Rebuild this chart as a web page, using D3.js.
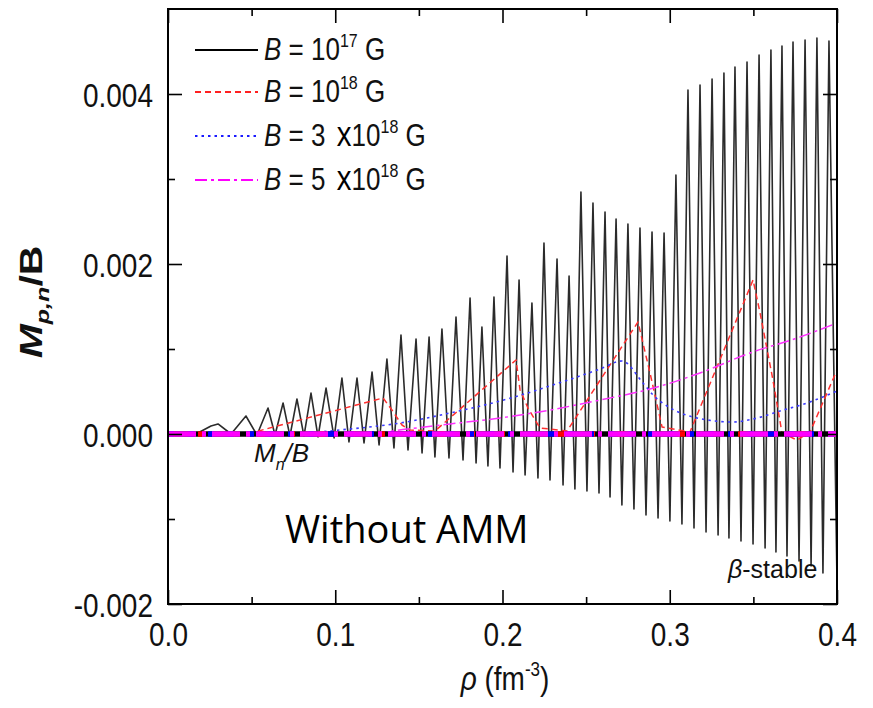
<!DOCTYPE html>
<html>
<head>
<meta charset="utf-8">
<script src="https://cdn.jsdelivr.net/npm/d3@7"></script>
<style>
  body { margin: 0; background: #fff; }
  svg { display: block; }
</style>
</head>
<body>
<svg id="chart" width="873" height="708"></svg>
<script>
// ---------- data: proton magnetization per unit field, M_p/B, vs baryon density ----------
// B = 10^17 G : alternating local maxima / minima of the Landau-level oscillations
const rhoB17 = [0, 0.0167, 0.0257, 0.0299, 0.0377,
  0.0466, 0.0532, 0.0598, 0.0640, 0.0688, 0.0729, 0.0771, 0.0813, 0.0855, 0.0897,
  0.0945, 0.0993, 0.1040, 0.1082, 0.1130, 0.1172, 0.1220, 0.1262, 0.1309, 0.1351,
  0.1393, 0.1435, 0.1483, 0.1519, 0.1561, 0.1596, 0.1638, 0.1680, 0.1722, 0.1764,
  0.1806, 0.1842, 0.1877, 0.1913, 0.1949, 0.1985, 0.2027, 0.2063, 0.2099, 0.2135,
  0.2176, 0.2212, 0.2248, 0.2284, 0.2326, 0.2362, 0.2398, 0.2433, 0.2469, 0.2505,
  0.2541, 0.2577, 0.2613, 0.2643, 0.2679, 0.2714, 0.2750, 0.2786, 0.2822, 0.2858,
  0.2894, 0.2930, 0.2966, 0.3001, 0.3037, 0.3073, 0.3109, 0.3145, 0.3181, 0.3217,
  0.3253, 0.3289, 0.3324, 0.3354, 0.3390, 0.3426, 0.3462, 0.3498, 0.3534, 0.3570,
  0.3605, 0.3635, 0.3671, 0.3701, 0.3737, 0.3773, 0.3809, 0.3845, 0.3880, 0.3916,
  0.3952, 0.4000];
const magB17 = [0, 0, 0.000094, 0.000118, 0,
  0.000212, -0.000012, 0.000306, -0.000012, 0.000365, -0.000024, 0.000412, -0.000024, 0.000482, -0.000035,
  0.000541, -0.000047, 0.000659, -0.000094, 0.000659, -0.000106, 0.000729, -0.000129, 0.000882, -0.000165,
  0.001165, -0.000188, 0.001118, -0.000224, 0.001141, -0.000271, 0.001235, -0.000282, 0.001376, -0.000306,
  0.001600, -0.000341, 0.001259, -0.000376, 0.001612, -0.000400, 0.002094, -0.000447, 0.001812, -0.000482,
  0.001541, -0.000518, 0.002247, -0.000541, 0.002059, -0.000600, 0.001859, -0.000647, 0.002847, -0.000671,
  0.002718, -0.000694, 0.002612, -0.000741, 0.002529, -0.000835, 0.002471, -0.000882, 0.002424, -0.000953,
  0.002376, -0.000988, 0.002365, -0.001024, 0.003047, -0.001059, 0.004047, -0.001106, 0.004106, -0.001153,
  0.004176, -0.001188, 0.004247, -0.001224, 0.004318, -0.001259, 0.004376, -0.001294, 0.004459, -0.001341,
  0.004518, -0.001388, 0.004565, -0.001435, 0.004612, -0.001494, 0.004635, -0.001553, 0.004659, -0.001635,
  0.004624, -0.001753];

// B = 10^18 G
const rhoB18 = [0, 0.0496, 0.1286, 0.1339, 0.1399, 0.1447, 0.1596, 0.2081, 0.2105, 0.2152, 0.2224, 0.2386,
  0.2810, 0.2882, 0.2954, 0.3121, 0.3498, 0.3540, 0.3617, 0.3671, 0.3761, 0.3839, 0.4000];
const magB18 = [0, 0.000012, 0.000424, 0.000282, 0.000106, 0.000047, 0.000035, 0.000871, 0.000518, 0.000306, 0.000071, 0.000035,
  0.001318, 0.000718, 0.000082, 0.000024, 0.001812, 0.001424, 0.000635, 0.000012, -0.000071, 0.000024, 0.000753];

// B = 3 x 10^18 G
const rhoB3e18 = [0, 0.0789, 0.1088, 0.1387, 0.1686, 0.1985, 0.2284, 0.2583, 0.2714, 0.2840, 0.2912, 0.2984,
  0.3139, 0.3378, 0.3498, 0.3659, 0.3821, 0.4000];
const magB3e18 = [0, 0.000012, 0.000059, 0.000129, 0.000247, 0.000388, 0.000565, 0.000765, 0.000859, 0.000600, 0.000435, 0.000329,
  0.000200, 0.000141, 0.000176, 0.000271, 0.000365, 0.000506];

// B = 5 x 10^18 G
const rhoB5e18 = [0, 0.1208, 0.1429, 0.1686, 0.1985, 0.2284, 0.2583, 0.2882, 0.3181, 0.3480, 0.3779, 0.4000];
const magB5e18 = [0, 0.000012, 0.000059, 0.000118, 0.000188, 0.000282, 0.000400, 0.000529, 0.000718, 0.000953, 0.001141, 0.001306];

// neutron magnetization M_n/B (no anomalous moment): zero for every field
const rhoNeutron = [0, 0.4];
const magNeutron = [0, 0];

// axes
const xMajorTicks = [0, 0.1, 0.2, 0.3, 0.4];
const xTickLabels = ["0.0", "0.1", "0.2", "0.3", "0.4"];
const xMinorTicks = [0.05, 0.15, 0.25, 0.35];
const yMajorTicks = [-0.002, 0, 0.002, 0.004];
const yTickLabels = ["-0.002", "0.000", "0.002", "0.004"];
const yMinorTicks = [-0.001, 0.001, 0.003];

// legend entries
const legendCoef = ["", "", "3", "5"];
const legendExp = ["17", "18", "18", "18"];

// ---------- drawing ----------
const svg = d3.select("#chart");
const FONT = "'Liberation Sans', Arial, Helvetica, sans-serif";
const INK = "#111";

const x = d3.scaleLinear().domain([0, 0.4]).range([168, 837]);
const y = d3.scaleLinear().domain([-0.002, 0.005]).range([604, 9]);

const line = d3.line().x(d => x(d[0])).y(d => y(d[1]));
const smooth = d3.line().x(d => x(d[0])).y(d => y(d[1])).curve(d3.curveMonotoneX);

const series = [
  { rho: rhoB17, mag: magB17, color: "#000", plotColor: "#2b2b2b", dash: null, width: 1.6, gen: line },
  { rho: rhoB18, mag: magB18, color: "#ff2020", plotColor: "#ff3030", dash: "6,4", width: 1.5, gen: line },
  { rho: rhoB3e18, mag: magB3e18, color: "#1a1aff", plotColor: "#3a3aff", dash: "2.5,4", width: 1.6, gen: smooth },
  { rho: rhoB5e18, mag: magB5e18, color: "#ff00ff", plotColor: "#ff30ff", dash: "12,4,3,4", width: 1.5, gen: smooth }
];

const plot = svg.append("g");
plot.append("clipPath").attr("id", "clip")
  .append("rect").attr("x", 168).attr("y", 9).attr("width", 669).attr("height", 595);
const inner = plot.append("g").attr("clip-path", "url(#clip)");

series.forEach(s => {
  inner.append("path")
    .datum(d3.zip(s.rho, s.mag))
    .attr("d", s.gen)
    .attr("fill", "none")
    .attr("stroke", s.plotColor)
    .attr("stroke-width", s.width)
    .attr("stroke-dasharray", s.dash)
    .attr("stroke-linejoin", "round");
});

// neutron curves (thick, overlapping at zero)
const neutronStyles = [
  { color: "#000", dash: null },
  { color: "#ff0000", dash: "7,23" },
  { color: "#0000ff", dash: "6,14" },
  { color: "#ff00ff", dash: "28,6,4,6" }
];
neutronStyles.forEach(s => {
  inner.append("path")
    .datum(d3.zip(rhoNeutron, magNeutron))
    .attr("d", line)
    .attr("fill", "none")
    .attr("stroke", s.color)
    .attr("stroke-width", 5.5)
    .attr("stroke-dasharray", s.dash);
});

// ---------- axes (ticks point inward on all four sides) ----------
function styleAxis(g) {
  g.select(".domain").remove();
  g.selectAll(".tick line").attr("stroke", "#000").attr("stroke-width", 1.6);
}
const xAxisB = svg.append("g").attr("transform", "translate(0,604)")
  .call(d3.axisBottom(x).tickValues(xMajorTicks).tickFormat((d, i) => xTickLabels[i]).tickSizeInner(-14).tickSizeOuter(0).tickPadding(0))
  .call(styleAxis);
svg.append("g").attr("transform", "translate(0,604)")
  .call(d3.axisBottom(x).tickValues(xMinorTicks).tickFormat("").tickSizeInner(-7).tickSizeOuter(0)).call(styleAxis);
svg.append("g").attr("transform", "translate(0,9)")
  .call(d3.axisTop(x).tickValues(xMajorTicks).tickFormat("").tickSizeInner(-14).tickSizeOuter(0)).call(styleAxis);
svg.append("g").attr("transform", "translate(0,9)")
  .call(d3.axisTop(x).tickValues(xMinorTicks).tickFormat("").tickSizeInner(-7).tickSizeOuter(0)).call(styleAxis);

const yAxisL = svg.append("g").attr("transform", "translate(168,0)")
  .call(d3.axisLeft(y).tickValues(yMajorTicks).tickFormat((d, i) => yTickLabels[i]).tickSizeInner(-14).tickSizeOuter(0).tickPadding(0))
  .call(styleAxis);
svg.append("g").attr("transform", "translate(168,0)")
  .call(d3.axisLeft(y).tickValues(yMinorTicks).tickFormat("").tickSizeInner(-7).tickSizeOuter(0)).call(styleAxis);
svg.append("g").attr("transform", "translate(837,0)")
  .call(d3.axisRight(y).tickValues(yMajorTicks).tickFormat("").tickSizeInner(-14).tickSizeOuter(0)).call(styleAxis);
svg.append("g").attr("transform", "translate(837,0)")
  .call(d3.axisRight(y).tickValues(yMinorTicks).tickFormat("").tickSizeInner(-7).tickSizeOuter(0)).call(styleAxis);

// tick labels: slightly tall letterforms
const TICK_SY = 1.18;
xAxisB.selectAll(".tick text")
  .attr("font-family", FONT).attr("font-size", 28).attr("fill", INK)
  .attr("text-anchor", "middle")
  .attr("y", null).attr("dy", null)
  .attr("transform", `translate(0,42) scale(1,${TICK_SY})`);
yAxisL.selectAll(".tick text")
  .attr("font-family", FONT).attr("font-size", 28).attr("fill", INK)
  .attr("text-anchor", "end")
  .attr("x", null).attr("dy", null)
  .attr("transform", `translate(-15,12) scale(1,${TICK_SY})`);

// frame
svg.append("rect").attr("x", 168).attr("y", 9).attr("width", 669).attr("height", 595)
  .attr("fill", "none").attr("stroke", "#000").attr("stroke-width", 2);

// ---------- axis titles ----------
const yTitle = svg.append("text")
  .attr("transform", "translate(42,302) scale(1,1.32) rotate(-90)")
  .attr("text-anchor", "middle").attr("font-family", FONT).attr("font-size", 31)
  .attr("font-weight", "bold").attr("fill", INK);
yTitle.append("tspan").attr("font-style", "italic").text("M");
yTitle.append("tspan").attr("font-style", "italic").attr("font-size", 19).attr("dy", 7).text("p,n");
yTitle.append("tspan").attr("dy", -7).text("/B");

const xTitle = svg.append("text")
  .attr("transform", "translate(505,690) scale(1,1.2)")
  .attr("text-anchor", "middle").attr("font-family", FONT).attr("font-size", 28).attr("fill", INK);
xTitle.append("tspan").attr("font-style", "italic").text("\u03C1");
xTitle.append("tspan").text(" (fm");
xTitle.append("tspan").attr("font-size", 17).attr("dy", -12).text("-3");
xTitle.append("tspan").attr("dy", 12).text(")");

// ---------- legend ----------
const legendY = [50, 92, 136, 180];
series.forEach((s, i) => {
  svg.append("line")
    .attr("x1", 195).attr("x2", 258).attr("y1", legendY[i]).attr("y2", legendY[i])
    .attr("stroke", s.color).attr("stroke-width", 2)
    .attr("stroke-dasharray", s.dash);
  const t = svg.append("text")
    .attr("transform", `translate(264,${legendY[i] + 10}) scale(1,1.2)`)
    .attr("font-family", FONT).attr("font-size", 26).attr("fill", INK);
  t.append("tspan").attr("font-style", "italic").text("B");
  t.append("tspan").text(" = " + legendCoef[i]);
  if (legendCoef[i]) {
    t.append("tspan").attr("dx", 11).attr("font-family", "'Open Sans', sans-serif")
      .attr("font-size", 29).attr("fill", "#000").text("x");
  }
  t.append("tspan").text("10");
  t.append("tspan").attr("font-size", 16).attr("dy", -11).text(legendExp[i]);
  t.append("tspan").attr("dy", 11).text(" G");
});

// ---------- annotations ----------
const mn = svg.append("text").attr("x", 254).attr("y", 462)
  .attr("font-family", FONT).attr("font-size", 26).attr("fill", INK);
mn.append("tspan").attr("font-style", "italic").text("M");
mn.append("tspan").attr("font-style", "italic").attr("font-size", 16).attr("dy", 8).text("n");
mn.append("tspan").attr("font-style", "italic").attr("dy", -8).text("/B");

const bs = svg.append("text").attr("x", 728).attr("y", 578)
  .attr("font-family", FONT).attr("font-size", 25).attr("fill", INK);
bs.append("tspan").attr("font-style", "italic").text("\u03B2");
bs.append("tspan").text("-stable");

svg.append("text").attr("x", 285).attr("y", 543)
  .attr("font-family", "'Open Sans', 'Noto Sans', sans-serif").attr("font-size", 38).attr("fill", "#000")
  .text("Without AMM");
</script>
</body>
</html>
